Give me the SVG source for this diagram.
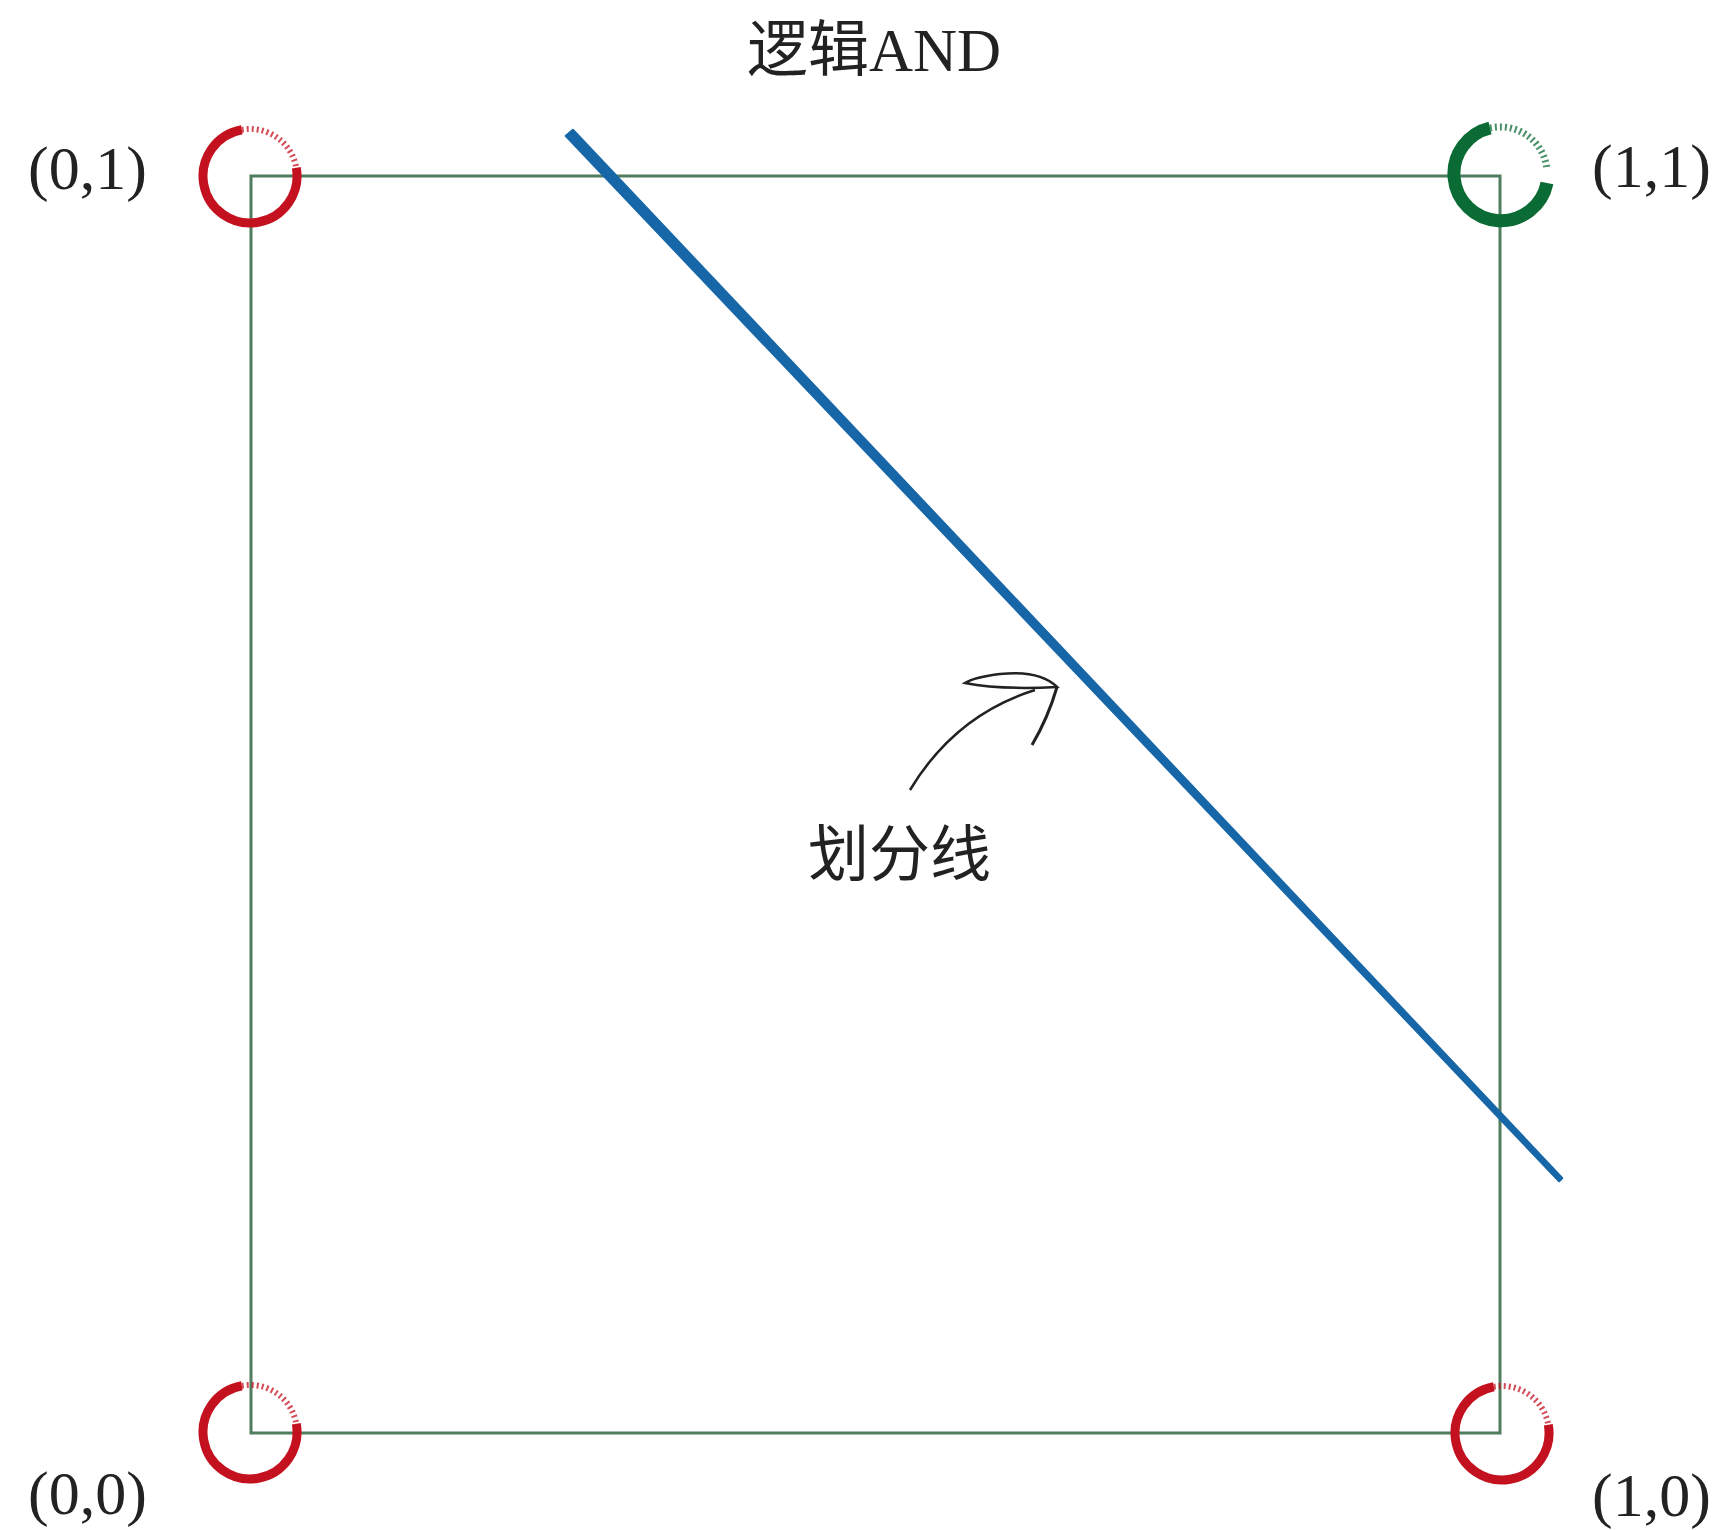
<svg xmlns="http://www.w3.org/2000/svg" width="1727" height="1530" viewBox="0 0 1727 1530">
<style>
.lbl{font-family:"Liberation Serif","Noto Sans CJK SC",serif;font-size:62px;fill:#222}
.cjk{font-family:"Liberation Serif","Noto Sans CJK SC",serif;font-size:61px;fill:#222}
.red{fill:none;stroke:#c4111f}
.grn{fill:none;stroke:#0b6b34}
.spk{stroke-dasharray:2 3;opacity:0.75}
</style>
<rect width="1727" height="1530" fill="#fff"/>
<g id="square"><rect x="251" y="176" width="1249" height="1257" fill="none" stroke="#4f7d5e" stroke-width="3"/></g>
<g id="title"><text class="cjk" x="747" y="71">逻辑AND</text></g>
<g id="p01">
<path class="red" stroke-width="9" d="M296.3,167.8 A47,47 0 1 1 241.8,129.7"/>
<path class="red spk" stroke-width="6" d="M241.8,129.7 A47,47 0 0 1 296.3,167.8"/>
<text class="lbl" x="28" y="189">(0,1)</text>
</g>
<g id="p11">
<path class="grn" stroke-width="13" d="M1547,183 A47,47 0 1 1 1490,128"/>
<path class="grn spk" stroke-width="7" d="M1490,128 A47,47 0 0 1 1547,170"/>
<text class="lbl" x="1592" y="187">(1,1)</text>
</g>
<g id="p00">
<path class="red" stroke-width="9" d="M296.3,1423.8 A47,47 0 1 1 241.8,1385.7"/>
<path class="red spk" stroke-width="6" d="M241.8,1385.7 A47,47 0 0 1 296.3,1423.8"/>
<text class="lbl" x="28" y="1514">(0,0)</text>
</g>
<g id="p10">
<path class="red" stroke-width="9" d="M1548.3,1424.8 A47,47 0 1 1 1493.8,1386.7"/>
<path class="red spk" stroke-width="6" d="M1493.8,1386.7 A47,47 0 0 1 1548.3,1424.8"/>
<text class="lbl" x="1592" y="1516">(1,0)</text>
</g>
<g id="divider">
<path d="M566,136 L573,130 L1562,1178 L1559,1181 Z" fill="#1767a8" stroke="#1767a8" stroke-width="2.5" stroke-linejoin="round"/>
</g>
<g id="connectors">
<path d="M910,790 Q955,715 1035,690" fill="none" stroke="#222" stroke-width="2.5"/>
<path d="M1057,687 Q1040,670 1000,674 Q975,677 965,683 Q1000,690 1057,687 Z" fill="none" stroke="#222" stroke-width="2.5"/>
<path d="M1057,687 Q1048,718 1032,745" fill="none" stroke="#222" stroke-width="3"/>
</g>
<g id="label"><text class="cjk" x="808" y="876">划分线</text></g>
</svg>
